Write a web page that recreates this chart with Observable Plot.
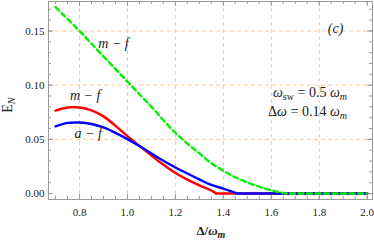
<!DOCTYPE html>
<html><head><meta charset="utf-8">
<script src="https://cdn.jsdelivr.net/npm/d3@7"></script>
<script src="https://cdn.jsdelivr.net/npm/@observablehq/plot@0.6"></script>
<style>body{margin:0;background:#fff} svg{display:block}</style>
</head><body><div id="chart"></div>
<script>
// Data (Δ/ω_m, E_N)
const greenX = [0.70,0.80,0.90,1.00,1.10,1.20,1.25,1.30,1.35,1.40,1.45,1.50,1.55,1.60,1.65,1.66,2.00];
const greenY = [0.172,0.150,0.1265,0.1033,0.080,0.056,0.046,0.037,0.028,0.021,0.015,0.0103,0.0063,0.003,0.0005,0,0];
const redX = [0.70,0.75,0.80,0.85,0.90,0.95,1.00,1.05,1.10,1.15,1.20,1.25,1.30,1.35,1.37,2.00];
const redY = [0.0765,0.0794,0.0794,0.0768,0.0712,0.0625,0.0530,0.0440,0.0350,0.0265,0.0190,0.0128,0.0075,0.0028,0,0];
const blueX = [0.70,0.75,0.80,0.85,0.90,0.95,1.00,1.05,1.10,1.15,1.20,1.25,1.30,1.35,1.40,1.45,1.46,2.00];
const blueY = [0.062,0.0652,0.0655,0.0642,0.0610,0.0560,0.0502,0.0438,0.0370,0.0302,0.0240,0.0185,0.013,0.008,0.0045,0.0007,0,0];

const xTicks = [0.8,1.0,1.2,1.4,1.6,1.8,2.0];
const yTicks = [0.00,0.05,0.10,0.15];
const xGrid = [0.8,1.0,1.2,1.4,1.6,1.8];
const yGrid = [0.05,0.10,0.15];

const labels = ["m − f","m − f","a − f","(c)"];
const labelX = [0.9418,0.8238,0.8363,1.8678];
const labelY = [0.1344,0.0865,0.0515,0.1482];

const toRows = (xs, ys) => xs.map((x, i) => ({x, y: ys[i]}));
const split = (rows) => {
  const k = rows.findIndex(r => r.y === 0);
  return [rows.slice(0, k + 1), rows.slice(k)];
};
const greenAll = toRows(greenX, greenY);
const [redA, redB] = split(toRows(redX, redY));
const [blueA, blueB] = split(toRows(blueX, blueY));
const ann = labels.map((t, i) => ({t, x: labelX[i], y: labelY[i]}));

const W = 374, H = 243, mL = 48, mR = 2, mT = 1, mB = 44;
const pw = W - mL - mR, ph = H - mT - mB;
const xMinor = d3.range(14, 41).map(i => i * 0.05);
const yMinor = d3.range(0, 18).map(i => i * 0.01);
const frameC = "#9a9a9a";
const font = "Liberation Serif, Times New Roman, serif";
const sw = 2.4;
const RED = "#ff0000", BLUE = "#0000ff", GREEN = "#00f000";

const chart = Plot.plot({
  width: W, height: H,
  marginLeft: mL, marginRight: mR, marginTop: mT, marginBottom: mB,
  style: {fontFamily: font, fontSize: "11px", color: "#222", background: "#fff"},
  x: {domain: [0.6707, 2.022]},
  y: {domain: [-0.0055, 0.1772]},
  marks: [
    Plot.gridX(xGrid, {stroke: "#ffc999", strokeOpacity: 1, strokeDasharray: "4,3"}),
    Plot.gridY(yGrid, {stroke: "#ffc999", strokeOpacity: 1, strokeDasharray: "4,3"}),
    Plot.tickX(xMinor, {x: d => d, insetTop: ph - 3, stroke: frameC}),
    Plot.tickX(xTicks, {x: d => d, insetTop: ph - 5, stroke: frameC}),
    Plot.tickX(xMinor, {x: d => d, insetBottom: ph - 3, stroke: frameC}),
    Plot.tickX(xTicks, {x: d => d, insetBottom: ph - 5, stroke: frameC}),
    Plot.tickY(yMinor, {y: d => d, insetRight: pw - 3, stroke: frameC}),
    Plot.tickY(yTicks, {y: d => d, insetRight: pw - 5, stroke: frameC}),
    Plot.tickY(yMinor, {y: d => d, insetLeft: pw - 3, stroke: frameC}),
    Plot.tickY(yTicks, {y: d => d, insetLeft: pw - 5, stroke: frameC}),
    Plot.frame({stroke: frameC}),
    Plot.axisX({ticks: xTicks, tickSize: 0, tickPadding: 9, tickFormat: d3.format(".1f"), label: null}),
    Plot.axisY({ticks: yTicks, tickSize: 0, tickPadding: 4, tickFormat: d3.format(".2f"), label: null}),
    Plot.line(redA, {x: "x", y: "y", stroke: RED, strokeWidth: sw, curve: "catmull-rom"}),
    Plot.line(redB, {x: "x", y: "y", stroke: RED, strokeWidth: sw}),
    Plot.line(blueA, {x: "x", y: "y", stroke: BLUE, strokeWidth: sw, curve: "catmull-rom"}),
    Plot.line(blueB, {x: "x", y: "y", stroke: BLUE, strokeWidth: sw}),
    Plot.line(greenAll, {x: "x", y: "y", stroke: GREEN, strokeWidth: sw, strokeDasharray: "5,3.5", curve: "monotone-x"}),
    Plot.text(ann, {x: "x", y: "y", text: "t", fontSize: 14, fontStyle: "italic", fill: "#222", lineAnchor: "bottom"})
  ]
});
document.getElementById("chart").append(chart);

const sx = chart.scale("x"), sy = chart.scale("y");
const svg = d3.select(chart);
// right-side parameter annotations
const params = [
  {parts: [["ω", "italic", 0], ["sw", "normal", 1], [" = 0.5 ", "normal", 0], ["ω", "italic", 0], ["m", "italic", 1]], x: 1.9178, y: 0.0883},
  {parts: [["Δ", "normal", 0], ["ω", "italic", 0], [" = 0.14 ", "normal", 0], ["ω", "italic", 0], ["m", "italic", 1]], x: 1.9178, y: 0.0709}
];
for (const p of params) {
  const t = svg.append("text").attr("font-family", font).attr("font-size", 14).attr("fill", "#222")
    .attr("text-anchor", "end").attr("x", sx.apply(p.x)).attr("y", sy.apply(p.y));
  let shifted = false;
  for (const [s, st, isSub] of p.parts) {
    const dy = isSub && !shifted ? 3 : (!isSub && shifted ? -3 : 0);
    shifted = !!isSub;
    t.append("tspan").attr("font-style", st).attr("font-size", isSub ? 10 : 14).attr("dy", dy).text(s);
  }
}
// x-axis label
const xl = svg.append("text").attr("font-family", font).attr("font-size", 13).attr("font-weight", "bold")
  .attr("fill", "#222").attr("text-anchor", "middle").attr("x", sx.apply(1.35)).attr("y", 235);
xl.append("tspan").text("Δ/");
xl.append("tspan").attr("font-style", "italic").text("ω");
xl.append("tspan").attr("font-style", "italic").attr("font-size", 10).attr("dy", 3).text("m");
// y-axis label
const yl = svg.append("text").attr("font-family", font).attr("font-size", 14)
  .attr("fill", "#222").attr("text-anchor", "middle").attr("transform", `translate(12,${sy.apply(0.081)}) rotate(-90)`);
yl.append("tspan").text("E");
yl.append("tspan").attr("font-size", 10).attr("font-style", "italic").attr("dy", 3).text("N");
</script>
</body></html>
